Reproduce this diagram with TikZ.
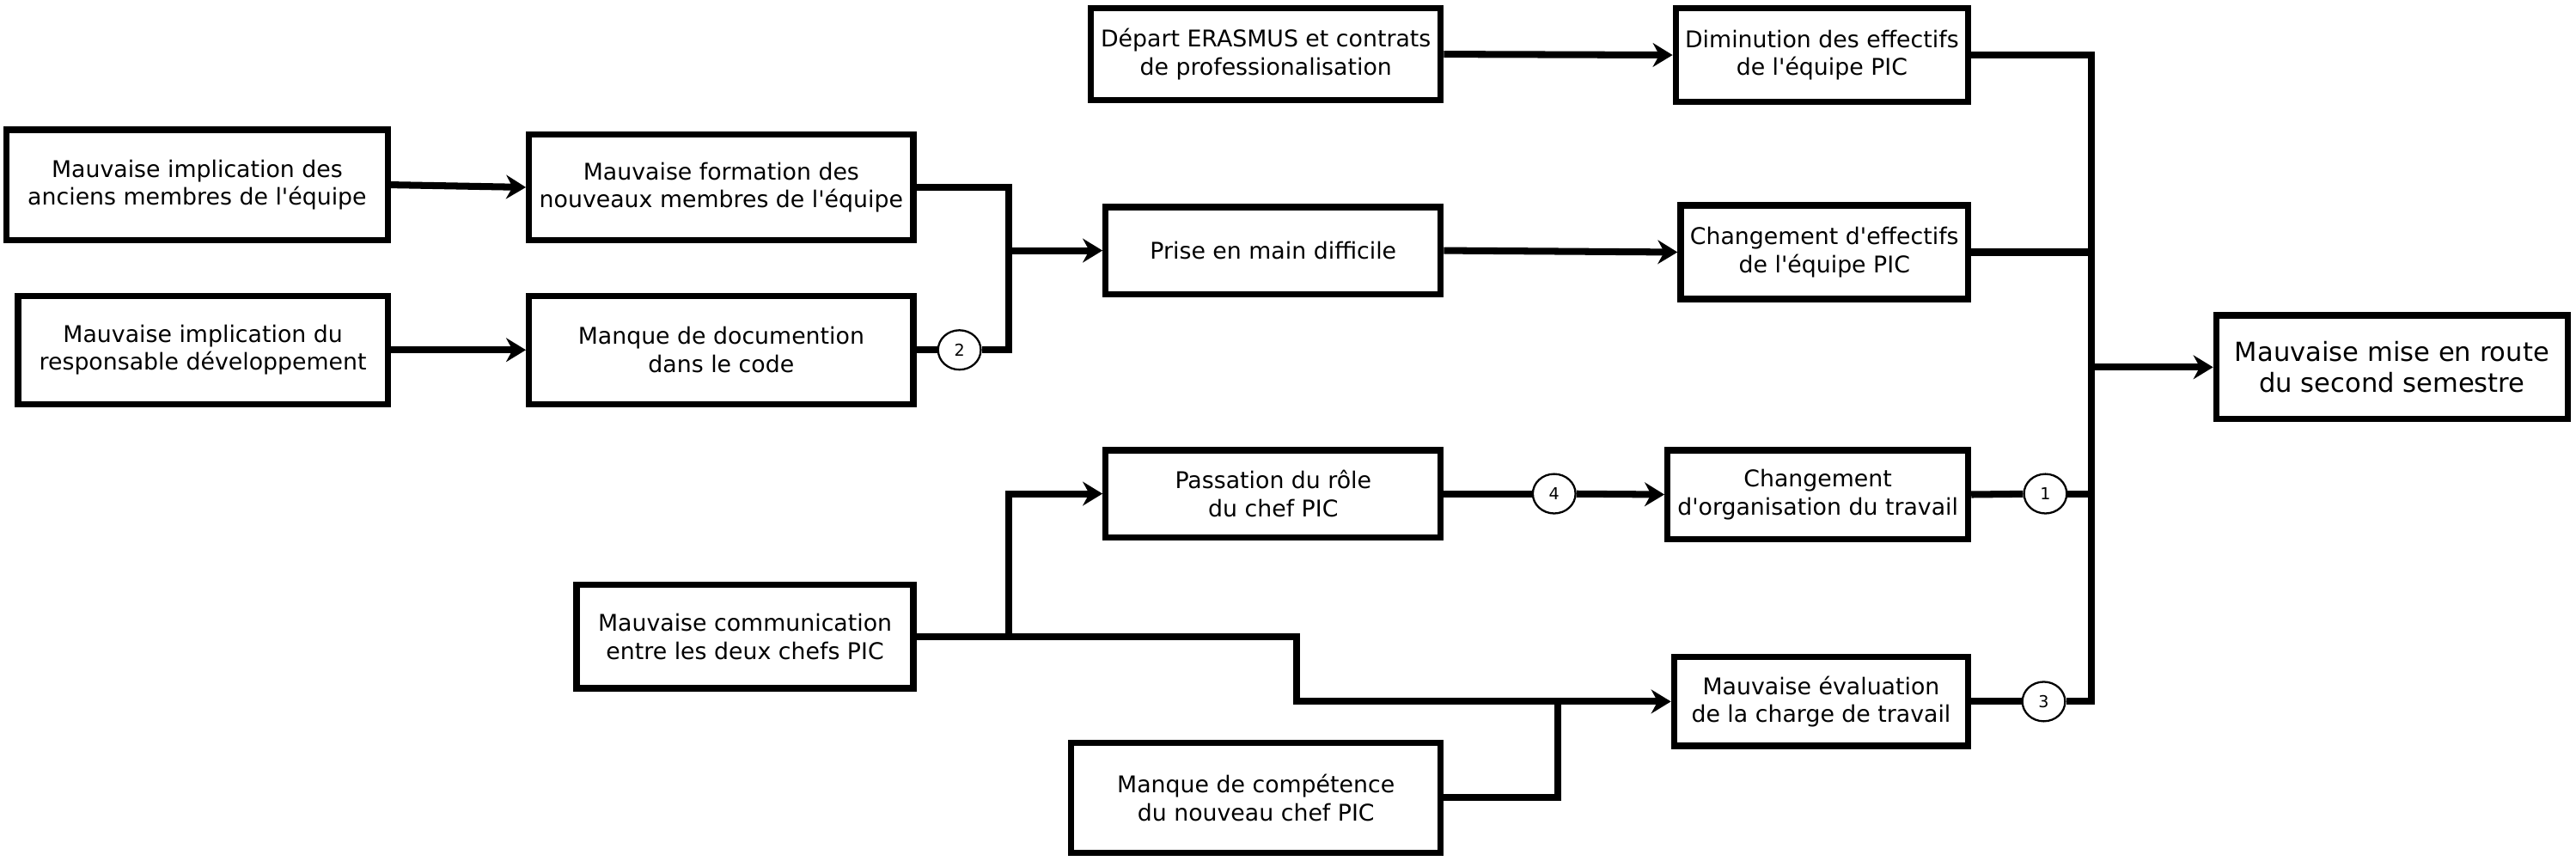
\documentclass[tikz,border=0pt]{standalone}
\usepackage{fontspec}
\setmainfont[Ligatures=TeXOff]{DejaVu Sans}
\usetikzlibrary{arrows.meta,shapes.geometric}

\begin{document}
\begin{tikzpicture}[x=1pt,y=-1pt,
  cause/.style={draw,line width=3.8pt,align=center,inner sep=2pt,font=\fontsize{14}{17}\selectfont},
  num/.style={draw,ellipse,line width=1.2pt,minimum width=26pt,minimum height=24pt,inner sep=0pt,font=\fontsize{10}{11}\selectfont},
  link/.style={line width=4.2pt},
  arr/.style={line width=4.2pt,-{Stealth[length=12pt,width=14.5pt]}}]
  \useasboundingbox (0,0) rectangle (1568,524);
  % junctions
  \coordinate (j1) at (614,152.5); \coordinate (j2) at (614,387.5);
  \coordinate (k1) at (789,427); \coordinate (k2) at (948,427); \coordinate (bus) at (1273,223.5);
  % causes
  \node[cause,minimum width=232pt,minimum height=67pt] (b1) at (120,112.5) {Mauvaise implication des\\anciens membres de l'équipe};
  \node[cause,minimum width=225pt,minimum height=66pt] (b2) at (123.5,213) {Mauvaise implication du\\responsable développement};
  \node[cause,minimum width=234pt,minimum height=64pt] (b3) at (439,114) {Mauvaise formation des\\nouveaux membres de l'équipe};
  \node[cause,minimum width=234pt,minimum height=66pt] (b4) at (439,213) {Manque de documention\\dans le code};
  \node[cause,minimum width=213pt,minimum height=56pt] (b5) at (770.5,33) {Départ ERASMUS et contrats\\de professionalisation};
  \node[cause,minimum width=204pt,minimum height=53pt] (b6) at (775,152.5) {Prise en main difficile};
  \node[cause,minimum width=178pt,minimum height=57pt] (b7) at (1109,33.5) {Diminution des effectifs\\de l'équipe PIC};
  \node[cause,minimum width=175pt,minimum height=57pt] (b8) at (1110.5,153.5) {Changement d'effectifs\\de l'équipe PIC};
  \node[cause,minimum width=204pt,minimum height=53pt] (b9) at (775,300.5) {Passation du rôle\\du chef PIC};
  \node[cause,minimum width=183pt,minimum height=54pt] (b10) at (1106.5,301) {Changement\\d'organisation du travail};
  \node[cause,minimum width=205pt,minimum height=63pt] (b11) at (453.5,387.5) {Mauvaise communication\\entre les deux chefs PIC};
  \node[cause,minimum width=225pt,minimum height=67pt] (b12) at (764.5,485.5) {Manque de compétence\\du nouveau chef PIC};
  \node[cause,minimum width=179pt,minimum height=54pt] (b13) at (1108.5,427) {Mauvaise évaluation\\de la charge de travail};
  \node[cause,minimum width=214pt,minimum height=63pt,font=\fontsize{16}{19}\selectfont] (b14) at (1456,223.5) {Mauvaise mise en route\\du second semestre};
  % numbered marks
  \node[num] (c2) at (584,213) {2}; \node[num] (c4) at (946,300.5) {4};
  \node[num] (c1) at (1245,300.5) {1}; \node[num] (c3) at (1244,427) {3};
  % links
  \draw[arr] (b1.east) -- (b3.west); \draw[arr] (b2.east) -- (b4.west);
  \draw[link] (b3.east) -| (j1); \draw[link] (b4.east) -- (c2); \draw[link] (c2) -| (j1);
  \draw[arr] (j1) -- (b6.west);
  \draw[arr] (b5.east) -- (b7.west); \draw[arr] (b6.east) -- (b8.west);
  \draw[link] (b9.east) -- (c4); \draw[arr] (c4) -- (b10.west);
  \draw[link] (b11.east) -- (j2); \draw[arr] (j2) |- (b9.west);
  \draw[arr] (j2) -| (k1) -- (b13.west); \draw[link] (b12.east) -| (k2);
  \draw[link] (b7.east) -| (bus); \draw[link] (b8.east) -| (bus);
  \draw[link] (b10.east) -- (c1); \draw[link] (c1) -| (bus);
  \draw[link] (b13.east) -- (c3); \draw[link] (c3) -| (bus);
  \draw[arr] (bus) -- (b14.west);
\end{tikzpicture}
\end{document}
